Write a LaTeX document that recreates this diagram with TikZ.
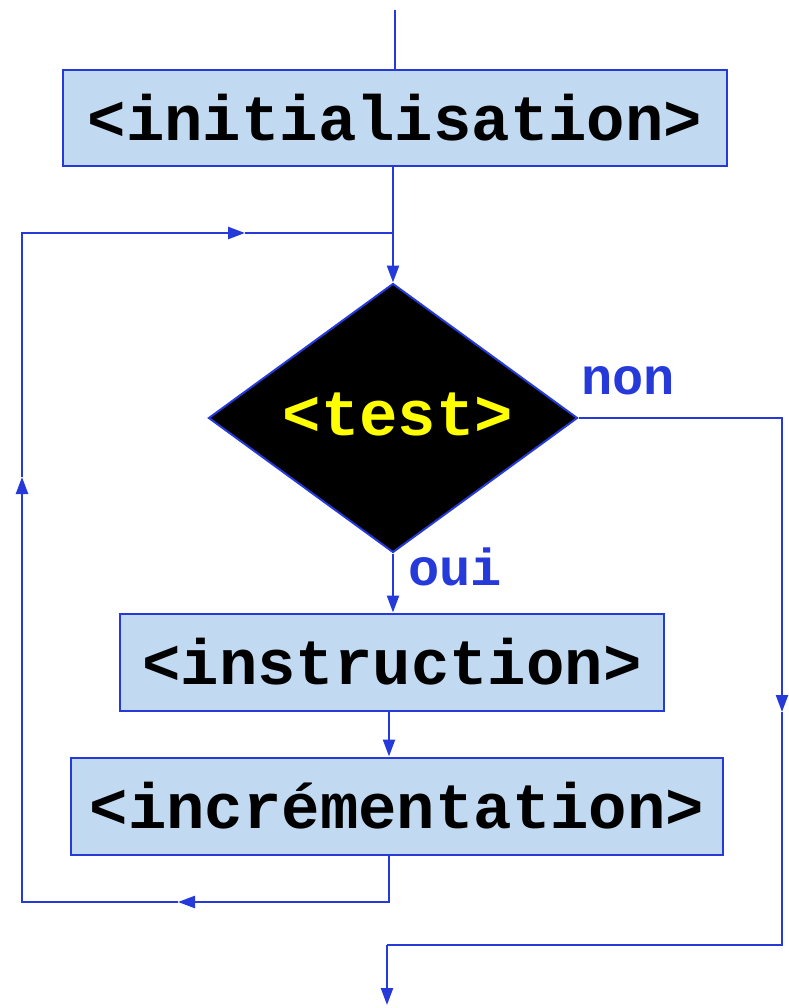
\documentclass[tikz,border=0pt]{standalone}
\usepackage{fontspec}
\setmonofont{Liberation Mono}
\usetikzlibrary{shapes.geometric,arrows.meta}
\definecolor{lineblue}{RGB}{38,58,218}
\definecolor{boxblue}{RGB}{193,217,241}
\definecolor{testyellow}{RGB}{255,255,0}

\begin{document}
\begin{tikzpicture}[x=1pt,y=-1pt]
\tikzstyle{every node}+=[inner sep=0pt]
\tikzstyle{stepbox}=[draw=lineblue,line width=2pt,fill=boxblue,font=\fontsize{64}{64}\selectfont\ttfamily\bfseries]
\tikzstyle{testbox}=[diamond,draw=lineblue,line width=2pt,fill=black,text=testyellow,font=\fontsize{64}{64}\selectfont\ttfamily\bfseries]
\tikzstyle{lbl}=[text=lineblue,font=\fontsize{52}{52}\selectfont\ttfamily\bfseries]
\tikzstyle{flow}=[draw=lineblue,line width=2.4pt]
\tikzstyle{tip}=[-{Triangle[length=17pt,width=12pt]}]
\useasboundingbox (0,0) rectangle (788,1008);
% boxes
\node [stepbox,minimum width=664,minimum height=96] (init) at (395,118) {<initialisation>};
\node [testbox,minimum width=369,minimum height=269] (test) at (393,418) {};
\node [text=testyellow,font=\fontsize{64}{64}\selectfont\ttfamily\bfseries] (testtxt) at (398,414) {<test>};
\node [stepbox,minimum width=544,minimum height=97] (instr) at (392,662) {<instruction>};
\node [stepbox,minimum width=652,minimum height=97] (incr) at (397,806) {<incrémentation>};
\node [lbl] (non) at (628,381) {non};
\node [lbl] (oui) at (455,567) {oui};
% points of the lines
\coordinate (start) at (395,10);
\coordinate (join) at (393,233);
\coordinate (back) at (389,902);
\coordinate (m1) at (178,902);
\coordinate (loopBot) at (22,902);
\coordinate (m2) at (22,477);
\coordinate (loopTop) at (22,233);
\coordinate (m3) at (245,233);
\coordinate (right) at (782,418);
\coordinate (m4) at (782,712);
\coordinate (rightBot) at (782,945);
\coordinate (corner) at (387,945);
\coordinate (out) at (387,1005);
% lines
\draw [flow] (start) -- (init.north -| start);
\draw [flow,tip] (init.south -| join) -- (test.north);
\draw [flow,tip] (test.south) -- (test.south |- instr.north);
\draw [flow,tip] (instr.south -| back) -- (incr.north -| back);
\draw [flow,tip] (incr.south -| back) -- (back) -- (m1);
\draw [flow,tip] (m1) -- (loopBot) -- (m2);
\draw [flow,tip] (m2) -- (loopTop) -- (m3);
\draw [flow] (m3) -- (join);
\draw [flow,tip] (test.east) -- (right) -- (m4);
\draw [flow] (m4) -- (rightBot) -- (corner);
\draw [flow,tip] (corner) -- (out);
\end{tikzpicture}
\end{document}
